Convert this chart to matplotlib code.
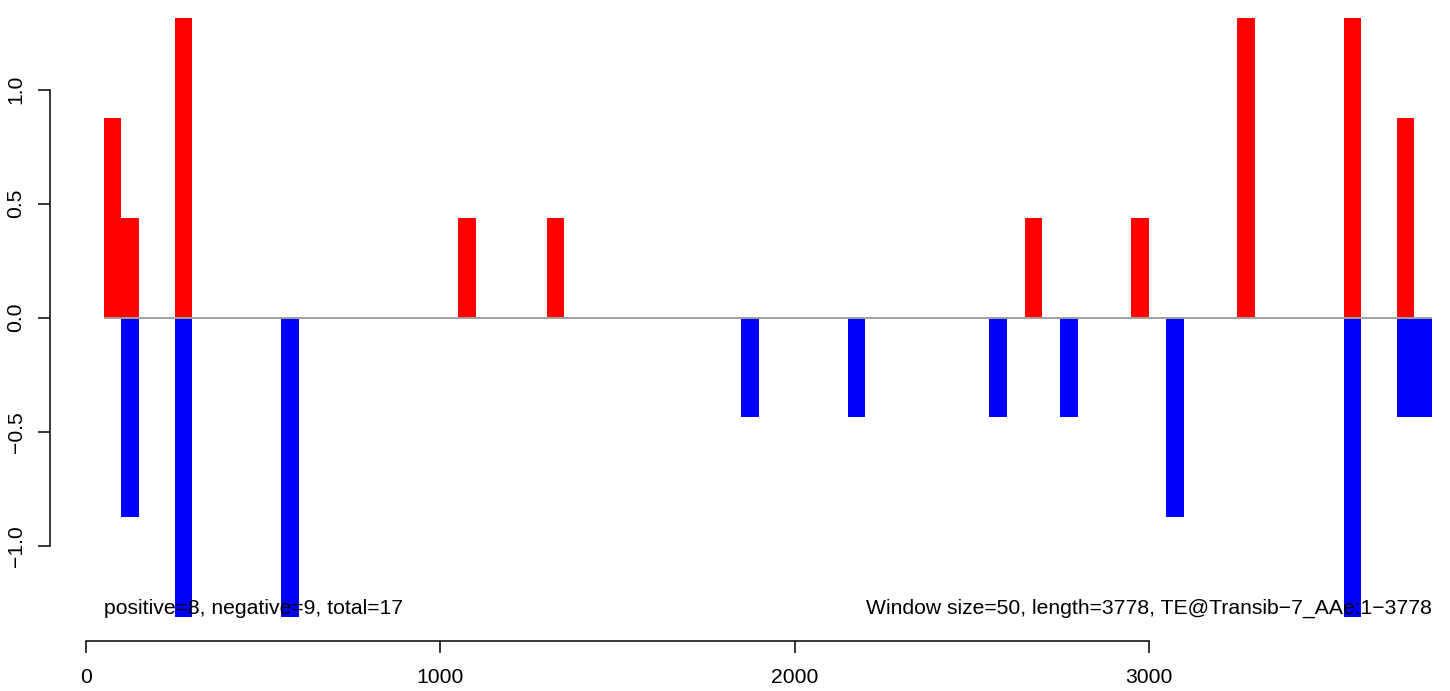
import matplotlib
matplotlib.use("Agg")
import matplotlib.pyplot as plt

plt.rcParams['font.family'] = ['Liberation Sans', 'DejaVu Sans']

# window start positions (window size 50) and scores
win_start = [50, 100, 250, 550, 1050, 1300, 1850, 2150, 2550, 2650, 2750,
             2950, 3050, 3250, 3550, 3700, 3750]
pos_vals = [0.875, 0.4375, 1.3125, 0, 0.4375, 0.4375, 0, 0, 0, 0.4375, 0,
            0.4375, 0, 1.3125, 1.3125, 0.875, 0]
neg_vals = [0, -0.875, -1.3125, -1.3125, 0, 0, -0.4375, -0.4375, -0.4375, 0,
            -0.4375, 0, -0.875, 0, -1.3125, -0.4375, -0.4375]
win_size = 50
seq_end = 3800
x_ticks = [0, 1000, 2000, 3000]
y_ticks = [-1.0, -0.5, 0.0, 0.5, 1.0]
left_note = "positive=8, negative=9, total=17"
right_note = "Window size=50, length=3778, TE@Transib\u22127_AAe:1\u22123778"

fig = plt.figure(figsize=(14.5, 6.91), dpi=100)
ax = fig.add_axes([0, 0, 1, 1])

ax.bar(win_start, pos_vals, width=win_size, align='edge', color='red',
       linewidth=0, zorder=2)
ax.bar(win_start, neg_vals, width=win_size, align='edge', color='blue',
       linewidth=0, zorder=2)
ax.hlines(0, win_start[0], seq_end, color='#a0a0a0', linewidth=1.4, zorder=3)

fs = 15.2
ax.text(win_start[0], -1.275, left_note, ha='left', va='center', fontsize=fs, zorder=4)
ax.text(seq_end, -1.275, right_note, ha='right', va='center', fontsize=fs, zorder=4)

# pixel mapping of the original R device
ax.set_xlim(-242.8, 3850.4)
ax.set_ylim(-1.637, 1.3934)

for s in ['top', 'right']:
    ax.spines[s].set_visible(False)
ax.spines['left'].set_position(('data', -101.6))
ax.spines['left'].set_bounds(-1, 1)
ax.spines['bottom'].set_position(('data', -1.418))
ax.spines['bottom'].set_bounds(0, 3000)
for s in ['left', 'bottom']:
    ax.spines[s].set_linewidth(1.1)

ax.set_xticks(x_ticks)
ax.set_xticklabels([str(t) for t in x_ticks])
ax.set_yticks(y_ticks)
ax.set_yticklabels([f"{t:.1f}".replace('-', '\u2212') for t in y_ticks],
                   rotation=90, va='center')
ax.tick_params(axis='both', direction='out', length=8.6, width=1.1,
               labelsize=fs)
ax.tick_params(axis='x', pad=11)
ax.tick_params(axis='y', pad=9)
ax.patch.set_alpha(0)

fig.savefig("out.png", dpi=100)
